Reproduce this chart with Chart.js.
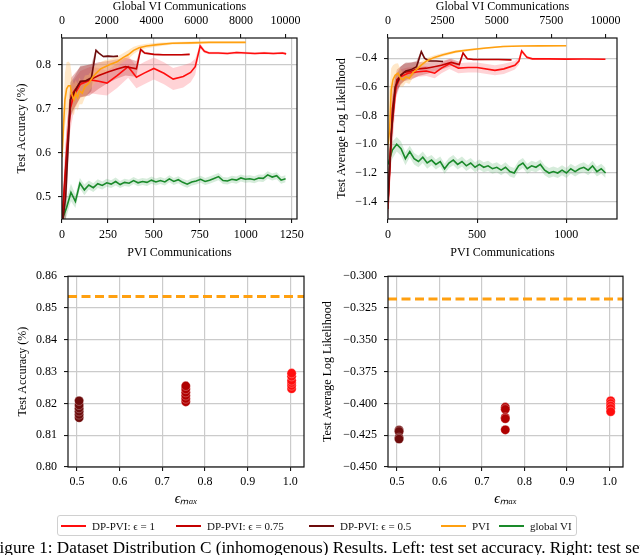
<!DOCTYPE html>
<html><head><meta charset="utf-8">
<script src="https://cdn.jsdelivr.net/npm/chart.js@4.4.1/dist/chart.umd.min.js"></script>
<style>
html,body{margin:0;padding:0;background:#fff;width:640px;height:555px;overflow:hidden;position:relative;font-family:"Liberation Serif","Times New Roman",serif;}
canvas{position:absolute;}
#legend{position:absolute;left:57px;top:515px;width:520px;height:21px;border:1px solid #d0d0d0;border-radius:3px;box-sizing:border-box;font-size:11px;color:#111;background:#fff;}
.item{position:absolute;top:0;height:19px;display:flex;align-items:center;white-space:nowrap;}
.sw{display:inline-block;width:25px;height:2px;margin-right:6px;}
#caption{position:absolute;left:-10px;top:538px;font-size:17.2px;white-space:nowrap;color:#000;}
</style></head>
<body>
<canvas id="c1" width="320" height="270" style="left:0;top:0"></canvas>
<canvas id="c2" width="320" height="270" style="left:320px;top:0"></canvas>
<canvas id="c3" width="320" height="250" style="left:0;top:262px"></canvas>
<canvas id="c4" width="320" height="250" style="left:320px;top:262px"></canvas>
<div id="legend"></div>
<div id="caption">Figure 1: Dataset Distribution C (inhomogenous) Results. Left: test set accuracy. Right: test set log likelihood.</div>
<script>
// ---------- series names ----------
const seriesNames = ["DP-PVI: \u03f5 = 1", "DP-PVI: \u03f5 = 0.75", "DP-PVI: \u03f5 = 0.5", "PVI", "global VI"];

// ---------- tick labels ----------
const pviTicksA = [0,250,500,750,1000,1250];
const pviLabelsA = ["0","250","500","750","1000","1250"];
const gviTicksA = [0,2000,4000,6000,8000,10000];
const gviLabelsA = ["0","2000","4000","6000","8000","10000"];
const accTicks = [0.5,0.6,0.7,0.8];
const accLabels = ["0.5","0.6","0.7","0.8"];
const pviTicksB = [0,500,1000];
const pviLabelsB = ["0","500","1000"];
const gviTicksB = [0,2500,5000,7500,10000];
const gviLabelsB = ["0","2500","5000","7500","10000"];
const llTicks = [-1.4,-1.2,-1.0,-0.8,-0.6,-0.4];
const llLabels = ["\u22121.4","\u22121.2","\u22121.0","\u22120.8","\u22120.6","\u22120.4"];
const epsTicks = [0.5,0.6,0.7,0.8,0.9,1.0];
const epsLabels = ["0.5","0.6","0.7","0.8","0.9","1.0"];
const finAccTicks = [0.80,0.81,0.82,0.83,0.84,0.85,0.86];
const finAccLabels = ["0.80","0.81","0.82","0.83","0.84","0.85","0.86"];
const finLlTicks = [-0.450,-0.425,-0.400,-0.375,-0.350,-0.325,-0.300];
const finLlLabels = ["\u22120.450","\u22120.425","\u22120.400","\u22120.375","\u22120.350","\u22120.325","\u22120.300"];

// ---------- accuracy curves (x = PVI communications) ----------
const accE1X = [0,20,45,65,100,155,200,245,300,360,405,450,500,555,605,660,700,725,752,775,800,850,900,950,1000,1050,1100,1150,1200,1220];
const accE1Y = [0.44,0.56,0.70,0.73,0.755,0.765,0.762,0.758,0.775,0.795,0.771,0.781,0.791,0.78,0.767,0.773,0.782,0.795,0.842,0.83,0.826,0.826,0.825,0.827,0.826,0.825,0.826,0.825,0.826,0.824];
const accE1S = [0.03,0.06,0.05,0.035,0.03,0.03,0.03,0.028,0.028,0.025,0.025,0.025,0.025,0.025,0.025,0.025,0.022,0.018,0.006,0.004,0.003,0.003,0.003,0.003,0.003,0.003,0.003,0.003,0.003,0.003];

const accE075X = [0,25,50,100,150,200,250,300,345,405,428,450,500,550,600,650,695];
const accE075Y = [0.44,0.6,0.73,0.76,0.765,0.775,0.783,0.79,0.795,0.79,0.834,0.826,0.823,0.822,0.822,0.822,0.823];
const accE075S = [0.03,0.06,0.04,0.035,0.035,0.03,0.025,0.022,0.02,0.018,0.005,0.003,0.002,0.002,0.002,0.002,0.002];

const accE05X = [0,20,45,65,100,130,160,185,200,225,250,280,305];
const accE05Y = [0.43,0.5,0.72,0.735,0.762,0.763,0.77,0.832,0.826,0.818,0.819,0.818,0.819];
const accE05S = [0.03,0.06,0.04,0.035,0.035,0.035,0.03,0.004,0.003,0.002,0.002,0.002,0.002];

const accPviX = [0,8,16,25,35,45,55,65,75,85,95,110,125,145,165,185,210,235,260,300,330,360,390,420,460,520,600,700,800,900,1000];
const accPviY = [0.59,0.66,0.72,0.745,0.752,0.752,0.73,0.72,0.735,0.725,0.74,0.735,0.75,0.757,0.77,0.78,0.79,0.795,0.8,0.806,0.815,0.822,0.832,0.838,0.842,0.845,0.848,0.849,0.85,0.85,0.85];
const accPviS = [0.02,0.04,0.06,0.06,0.055,0.05,0.04,0.035,0.03,0.03,0.03,0.025,0.025,0.02,0.02,0.018,0.015,0.015,0.012,0.012,0.01,0.01,0.008,0.006,0.005,0.004,0.003,0.003,0.002,0.002,0.002];

// global VI (x = global VI communications, top axis)
const gviX = [0,200,400,600,800,1000,1200,1400,1600,1800,2000,2200,2400,2600,2800,3000,3200,3400,3600,3800,4000,4200,4400,4600,4800,5000,5200,5400,5600,5800,6000,6200,6400,6600,6800,7000,7200,7400,7600,7800,8000,8200,8400,8600,8800,9000,9200,9400,9600,9800,10000];
const accGviY = [0.448,0.475,0.51,0.49,0.531,0.516,0.527,0.521,0.53,0.526,0.532,0.529,0.535,0.528,0.533,0.531,0.537,0.532,0.535,0.533,0.538,0.534,0.537,0.534,0.541,0.535,0.539,0.533,0.529,0.534,0.536,0.54,0.535,0.538,0.542,0.546,0.537,0.536,0.54,0.538,0.543,0.54,0.541,0.539,0.543,0.542,0.55,0.545,0.548,0.538,0.541];
const accGviS = [0.02,0.02,0.02,0.015,0.012,0.012,0.01,0.01,0.01,0.009,0.009,0.009,0.009,0.008,0.008,0.008,0.008,0.008,0.008,0.008,0.008,0.008,0.008,0.008,0.008,0.008,0.008,0.008,0.008,0.008,0.008,0.008,0.008,0.008,0.008,0.008,0.008,0.008,0.008,0.008,0.008,0.008,0.008,0.008,0.008,0.008,0.008,0.008,0.008,0.008,0.008];

// ---------- log-likelihood curves ----------
const llE1X = [0,20,45,70,112,170,215,262,300,345,395,450,500,600,650,712,735,750,780,810,900,1000,1100,1220];
const llE1Y = [-1.45,-0.9,-0.6,-0.53,-0.505,-0.495,-0.49,-0.505,-0.47,-0.44,-0.47,-0.465,-0.465,-0.485,-0.475,-0.45,-0.42,-0.35,-0.395,-0.405,-0.405,-0.407,-0.406,-0.408];
const llE1S = [0.1,0.2,0.08,0.05,0.04,0.035,0.035,0.035,0.035,0.035,0.035,0.035,0.035,0.035,0.035,0.03,0.025,0.015,0.01,0.008,0.006,0.006,0.006,0.006];

const llE075X = [0,25,50,90,130,170,215,260,300,355,400,421,445,480,550,620,693];
const llE075Y = [-1.4,-0.75,-0.55,-0.5,-0.49,-0.475,-0.47,-0.46,-0.45,-0.43,-0.445,-0.365,-0.405,-0.41,-0.41,-0.41,-0.412];
const llE075S = [0.1,0.15,0.07,0.06,0.06,0.05,0.04,0.035,0.03,0.025,0.02,0.01,0.006,0.005,0.004,0.004,0.004];

const llE05X = [0,20,40,70,100,130,160,187,205,230,270,309];
const llE05Y = [-1.4,-0.9,-0.6,-0.52,-0.49,-0.48,-0.46,-0.355,-0.4,-0.42,-0.42,-0.424];
const llE05S = [0.1,0.15,0.07,0.06,0.06,0.05,0.04,0.01,0.006,0.005,0.004,0.004];

const llPviX = [0,9,18,28,40,56,70,84,100,120,140,159,185,216,260,309,380,459,550,646,750,850,1000];
const llPviY = [-1.0,-0.9,-0.62,-0.55,-0.52,-0.505,-0.54,-0.55,-0.53,-0.54,-0.5,-0.48,-0.45,-0.42,-0.395,-0.377,-0.355,-0.342,-0.33,-0.319,-0.316,-0.315,-0.314];
const llPviS = [0.3,0.3,0.15,0.1,0.08,0.07,0.06,0.05,0.04,0.04,0.035,0.03,0.025,0.02,0.015,0.012,0.01,0.008,0.006,0.005,0.004,0.003,0.003];

const llGviY = [-1.14,-1.04,-1.0,-1.03,-1.1,-1.05,-1.1,-1.12,-1.09,-1.13,-1.11,-1.14,-1.12,-1.17,-1.13,-1.11,-1.14,-1.12,-1.15,-1.13,-1.16,-1.14,-1.16,-1.15,-1.17,-1.16,-1.18,-1.16,-1.19,-1.2,-1.15,-1.13,-1.17,-1.15,-1.16,-1.14,-1.18,-1.2,-1.19,-1.2,-1.18,-1.2,-1.17,-1.19,-1.17,-1.16,-1.18,-1.15,-1.19,-1.17,-1.2];
const llGviS = [0.06,0.06,0.05,0.05,0.045,0.04,0.04,0.04,0.04,0.04,0.035,0.035,0.035,0.035,0.035,0.035,0.035,0.035,0.035,0.035,0.035,0.035,0.035,0.035,0.035,0.035,0.035,0.035,0.035,0.035,0.035,0.035,0.035,0.035,0.035,0.035,0.035,0.035,0.035,0.035,0.035,0.035,0.035,0.035,0.035,0.035,0.035,0.035,0.035,0.035,0.035];

// ---------- final results vs epsilon_max ----------
const epsMaxX = [0.505, 0.755, 1.003];
const finAccE05 = [0.8155,0.8165,0.8175,0.8185,0.8195,0.8208];
const finAccE075 = [0.8205,0.8215,0.8225,0.8235,0.8245,0.8255];
const finAccE1 = [0.8246,0.8256,0.8265,0.8272,0.8285,0.8295];
const finLlE05 = [-0.421,-0.422,-0.427,-0.428];
const finLlE075 = [-0.403,-0.4046,-0.411,-0.412,-0.4208];
const finLlE1 = [-0.398,-0.4,-0.402,-0.404,-0.4065];
const pviFinalAcc = 0.8536;
const pviFinalLl = -0.318;

// ---------- styling ----------
const COL = {e1:'#ff0d0d', e075:'#c40000', e05:'#6e0c0c', pvi:'#ffa010', gvi:'#1a8a2a'};
const BAND = {e1:'rgba(255,110,120,0.30)', e075:'rgba(190,30,30,0.30)', e05:'rgba(120,20,20,0.28)', pvi:'rgba(255,190,100,0.35)', gvi:'rgba(90,180,110,0.25)'};
const FONT = "'Liberation Serif','Times New Roman',serif";
Chart.defaults.font.family = FONT;
Chart.defaults.font.size = 12;
Chart.defaults.color = '#000';

const framePlugin = {id:'frame', afterDraw(chart){
  const {ctx, chartArea:a} = chart;
  ctx.save(); ctx.strokeStyle = '#111'; ctx.lineWidth = 1.2;
  ctx.strokeRect(a.left, a.top, a.right - a.left, a.bottom - a.top);
  ctx.restore();
}};

function axis(o){
  const hor = (o.pos === 'top' || o.pos === 'bottom');
  return {
    type:'linear', position:o.pos, min:o.min, max:o.max,
    afterBuildTicks: s => { s.ticks = o.ticks.map(v => ({value:v})); },
    afterFit: s => { if (hor) s.height = o.size; else s.width = o.size; },
    ticks:{callback:(v,i) => o.labels[i], padding:o.tickPad, color:'#000', font:{size:12}, maxRotation:0, autoSkip:false},
    grid:{display:true, drawOnChartArea:o.grid !== false, color:'#cbcbcb', lineWidth:1.2, drawTicks:true, tickLength:4, tickColor:'#000', tickWidth:1},
    border:{display:false},
    title:{display:!!o.title, text:o.title, color:'#000', font:Object.assign({size:12, lineHeight:1.2}, o.titleFont || {}), padding:o.titlePad || 0}
  };
}

function curve(xs, ys, ss, key, xAxisID, ord){
  const lo = xs.map((x,i) => ({x, y: ys[i] - ss[i]}));
  const hi = xs.map((x,i) => ({x, y: ys[i] + ss[i]}));
  const mid = xs.map((x,i) => ({x, y: ys[i]}));
  const common = {xAxisID, yAxisID:'y', pointRadius:0, tension:0};
  return [
    Object.assign({data:lo, borderColor:'rgba(0,0,0,0)', borderWidth:0, fill:false, order:100+ord}, common),
    Object.assign({data:hi, borderColor:'rgba(0,0,0,0)', borderWidth:0, fill:'-1', backgroundColor:BAND[key], order:100+ord}, common),
    Object.assign({data:mid, borderColor:COL[key], borderWidth:1.6, fill:false, order:ord}, common)
  ];
}

function baseOptions(scales, padding){
  return {responsive:false, animation:false, devicePixelRatio:1, layout:{padding},
    plugins:{legend:{display:false}, tooltip:{enabled:false}, filler:{drawTime:'beforeDatasetsDraw'}},
    elements:{line:{tension:0}}, scales};
}

// ---- chart 1: accuracy vs communications ----
new Chart(document.getElementById('c1'), {
  type:'line',
  data:{datasets:[].concat(
    curve(gviX, accGviY, accGviS, 'gvi', 'x2', 5),
    curve(accE1X, accE1Y, accE1S, 'e1', 'x', 4),
    curve(accE075X, accE075Y, accE075S, 'e075', 'x', 3),
    curve(accE05X, accE05Y, accE05S, 'e05', 'x', 2),
    curve(accPviX, accPviY, accPviS, 'pvi', 'x', 1)
  )},
  options: baseOptions({
    x: axis({pos:'bottom', min:0, max:1279, ticks:pviTicksA, labels:pviLabelsA, size:51, tickPad:5, title:'PVI Communications', titlePad:{top:0,bottom:10.3}}),
    x2: axis({pos:'top', min:0, max:10510, ticks:gviTicksA, labels:gviLabelsA, size:38, tickPad:6, grid:false, title:'Global VI Communications', titlePad:{top:0,bottom:0}}),
    y: axis({pos:'left', min:0.45, max:0.86, ticks:accTicks, labels:accLabels, size:62, tickPad:7, title:'Test Accuracy (%)', titlePad:{top:14.8,bottom:0}})
  }, {left:0, right:23, top:0, bottom:0}),
  plugins:[framePlugin]
});

// ---- chart 2: log likelihood vs communications ----
new Chart(document.getElementById('c2'), {
  type:'line',
  data:{datasets:[].concat(
    curve(gviX, llGviY, llGviS, 'gvi', 'x2', 5),
    curve(llE1X, llE1Y, llE1S, 'e1', 'x', 4),
    curve(llE075X, llE075Y, llE075S, 'e075', 'x', 3),
    curve(llE05X, llE05Y, llE05S, 'e05', 'x', 2),
    curve(llPviX, llPviY, llPviS, 'pvi', 'x', 1)
  )},
  options: baseOptions({
    x: axis({pos:'bottom', min:0, max:1285, ticks:pviTicksB, labels:pviLabelsB, size:51, tickPad:5, title:'PVI Communications', titlePad:{top:0,bottom:10.3}}),
    x2: axis({pos:'top', min:0, max:10524, ticks:gviTicksB, labels:gviLabelsB, size:38, tickPad:6, grid:false, title:'Global VI Communications', titlePad:{top:0,bottom:0}}),
    y: axis({pos:'left', min:-1.52, max:-0.26, ticks:llTicks, labels:llLabels, size:68, tickPad:7, title:'Test Average Log Likelihood', titlePad:{top:14.5,bottom:0}})
  }, {left:0, right:23, top:0, bottom:0}),
  plugins:[framePlugin]
});

// ---- final-result scatter helpers ----
const epsRange = [0.479, 1.032];
function scatterSet(xv, vals, col){
  return {type:'scatter', data: vals.map(v => ({x:xv, y:v})), backgroundColor:col, borderColor:'rgba(255,255,255,0.35)', borderWidth:0.8, pointRadius:4.6, order:2};
}
function dashedSet(v){
  return {type:'line', data:[{x:epsRange[0], y:v},{x:epsRange[1], y:v}], borderColor:COL.pvi, borderWidth:3, borderDash:[9,4.5], pointRadius:0, fill:false, order:1};
}
const epsTitle = '\u03f5\u2098\u2090\u2093';

new Chart(document.getElementById('c3'), {
  type:'scatter',
  data:{datasets:[
    dashedSet(pviFinalAcc),
    scatterSet(epsMaxX[0], finAccE05, COL.e05),
    scatterSet(epsMaxX[1], finAccE075, '#b00000'),
    scatterSet(epsMaxX[2], finAccE1, COL.e1)
  ]},
  options: baseOptions({
    x: axis({pos:'bottom', min:epsRange[0], max:epsRange[1], ticks:epsTicks, labels:epsLabels, size:45, tickPad:4, title:epsTitle, titleFont:{style:'italic', size:14}, titlePad:{top:0,bottom:4}}),
    y: axis({pos:'left', min:0.80, max:0.86, ticks:finAccTicks, labels:finAccLabels, size:68, tickPad:7, title:'Test Accuracy (%)', titlePad:{top:15.8,bottom:0}})
  }, {left:0, right:16, top:11, bottom:0}),
  plugins:[framePlugin]
});

new Chart(document.getElementById('c4'), {
  type:'scatter',
  data:{datasets:[
    dashedSet(pviFinalLl),
    scatterSet(epsMaxX[0], finLlE05, COL.e05),
    scatterSet(epsMaxX[1], finLlE075, '#b00000'),
    scatterSet(epsMaxX[2], finLlE1, COL.e1)
  ]},
  options: baseOptions({
    x: axis({pos:'bottom', min:epsRange[0], max:epsRange[1], ticks:epsTicks, labels:epsLabels, size:45, tickPad:4, title:epsTitle, titleFont:{style:'italic', size:14}, titlePad:{top:0,bottom:4}}),
    y: axis({pos:'left', min:-0.45, max:-0.30, ticks:finLlTicks, labels:finLlLabels, size:68, tickPad:7, title:'Test Average Log Likelihood', titlePad:{top:1,bottom:0}})
  }, {left:0, right:17, top:14, bottom:0}),
  plugins:[framePlugin]
});

// ---- legend ----
const legendCols = [COL.e1, COL.e075, COL.e05, COL.pvi, COL.gvi];
const legendLeft = [3, 118, 251, 383, 441];
const lg = document.getElementById('legend');
seriesNames.forEach((n, i) => {
  const it = document.createElement('div');
  it.className = 'item';
  it.style.left = legendLeft[i] + 'px';
  const sw = document.createElement('span');
  sw.className = 'sw'; sw.style.background = legendCols[i];
  const tx = document.createElement('span');
  tx.textContent = n;
  it.appendChild(sw); it.appendChild(tx);
  lg.appendChild(it);
});
</script>
</body></html>
